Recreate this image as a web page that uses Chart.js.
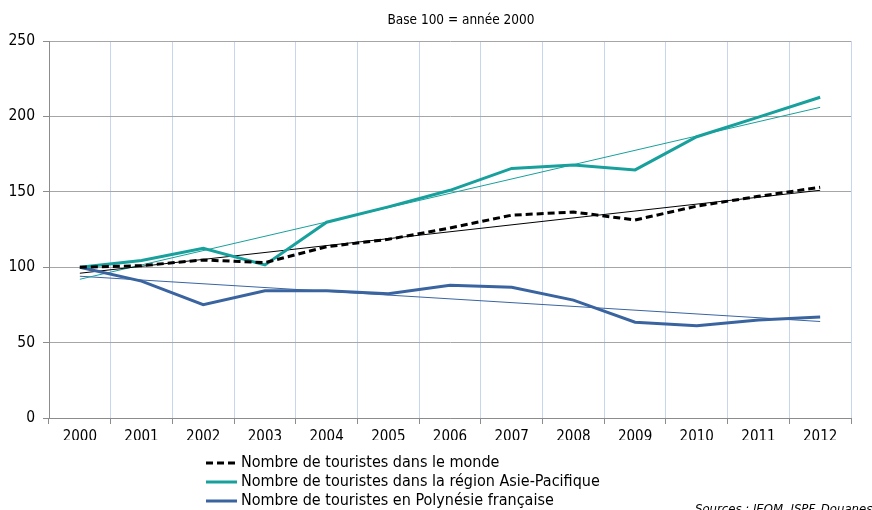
<!DOCTYPE html>
<html lang="fr">
<head>
<meta charset="utf-8">
<title>Fréquentation touristique – base 100 en 2000</title>
<script src="https://cdn.jsdelivr.net/npm/chart.js@4/dist/chart.umd.min.js"></script>
<style>
  html, body { margin: 0; padding: 0; background: #fff; }
  #wrap { position: relative; width: 872px; height: 510px; }
</style>
</head>
<body>
<div id="wrap"><canvas id="graphique" width="872" height="510"></canvas></div>
<script>
// Années (axe horizontal)
const annees = ['2000', '2001', '2002', '2003', '2004', '2005', '2006',
                '2007', '2008', '2009', '2010', '2011', '2012'];

// Indices, base 100 = année 2000
const monde = [100, 101, 104.8, 103, 113.6, 118.5, 126, 134.5, 136.6, 131.3, 140.5, 147, 153];
const asiePacifique = [100, 104.5, 112.5, 101.5, 129.8, 140, 151, 165.5, 167.8, 164.5, 186.5, 199.5, 212.7];
const polynesie = [100, 90.8, 75.1, 84.4, 84.4, 82.4, 88, 86.7, 78.2, 63.5, 61.2, 65, 67];

// Droites de tendance : valeur en 2000 et valeur en 2012
const tendanceMonde = [96, 151];
const tendanceAsie = [92, 206];
const tendancePolynesie = [94, 64];

// Graduations de l'axe vertical
const graduationsY = [0, 50, 100, 150, 200, 250];

const titre = 'Base 100 = année 2000';
const source = 'Sources : IEOM, ISPF, Douanes';

const couleurMonde = '#000000';
const couleurAsie = '#17a09c';
const couleurPolynesie = '#3a64a0';
const police = '"DejaVu Sans Condensed", "DejaVu Sans", sans-serif';

// Une droite de tendance tracée entre la première et la dernière année
function droite(extremites) {
  const dernier = annees.length - 1;
  return annees.map((_, i) => i === 0 ? extremites[0] : (i === dernier ? extremites[1] : null));
}

const series = [
  { label: 'Nombre de touristes dans le monde', data: monde,
    borderColor: couleurMonde, borderWidth: 3, borderDash: [7, 4] },
  { label: 'Nombre de touristes dans la région Asie-Pacifique', data: asiePacifique,
    borderColor: couleurAsie, borderWidth: 3 },
  { label: 'Nombre de touristes en Polynésie française', data: polynesie,
    borderColor: couleurPolynesie, borderWidth: 3 }
];

const tendances = [
  { label: 'Tendance monde', data: droite(tendanceMonde), borderColor: couleurMonde, borderWidth: 1 },
  { label: 'Tendance Asie-Pacifique', data: droite(tendanceAsie), borderColor: couleurAsie, borderWidth: 1 },
  { label: 'Tendance Polynésie française', data: droite(tendancePolynesie), borderColor: couleurPolynesie, borderWidth: 1 }
];

// Titre, légende verticale et mention des sources
const habillage = {
  id: 'habillage',
  afterDraw(chart) {
    const ctx = chart.ctx;
    ctx.save();
    ctx.fillStyle = '#000';
    ctx.textBaseline = 'middle';

    ctx.font = '13.5px ' + police;
    ctx.textAlign = 'center';
    ctx.fillText(titre, 461, 20);

    ctx.textAlign = 'left';
    ctx.font = '16px ' + police;
    series.forEach((s, i) => {
      const y = 463 + i * 19;
      ctx.beginPath();
      ctx.strokeStyle = s.borderColor;
      ctx.lineWidth = s.borderWidth;
      ctx.setLineDash(s.borderDash || []);
      ctx.moveTo(206, y);
      ctx.lineTo(237, y);
      ctx.stroke();
      ctx.setLineDash([]);
      ctx.fillText(s.label, 241, y);
    });

    ctx.font = 'italic 13px ' + police;
    ctx.fillText(source, 695, 510);
    ctx.restore();
  }
};

new Chart(document.getElementById('graphique'), {
  type: 'line',
  data: {
    labels: annees,
    datasets: [...series, ...tendances].map(d => Object.assign({
      fill: false, pointRadius: 0, pointHoverRadius: 0, tension: 0, spanGaps: true
    }, d))
  },
  options: {
    responsive: false,
    animation: false,
    events: [],
    layout: { padding: { top: 41, right: 21, bottom: 70, left: 0 } },
    plugins: {
      legend: { display: false },
      title: { display: false },
      tooltip: { enabled: false }
    },
    scales: {
      x: {
        offset: true,
        grid: {
          offset: true,
          // la première ligne coïncide avec l'axe vertical, qui reste gris
          color: c => c.index === 0 ? 'rgba(0,0,0,0)' : '#c8d5ee',
          lineWidth: 1, tickColor: '#8c8c8c', tickLength: 6, drawTicks: true
        },
        border: { color: '#8c8c8c', width: 1 },
        ticks: { color: '#000', font: { family: police, size: 15 }, padding: 4, maxRotation: 0, autoSkip: false },
        afterFit(scale) { scale.height = 22; }
      },
      y: {
        min: 0,
        max: 250,
        afterBuildTicks(scale) { scale.ticks = graduationsY.map(v => ({ value: v })); },
        grid: { color: '#a6a6a6', lineWidth: 1, tickColor: '#8c8c8c', tickLength: 6 },
        border: { color: '#8c8c8c', width: 1 },
        ticks: { color: '#000', font: { family: police, size: 15.5 }, padding: 8 },
        afterFit(scale) { scale.width = 49; }
      }
    }
  },
  plugins: [habillage]
});
</script>
</body>
</html>
